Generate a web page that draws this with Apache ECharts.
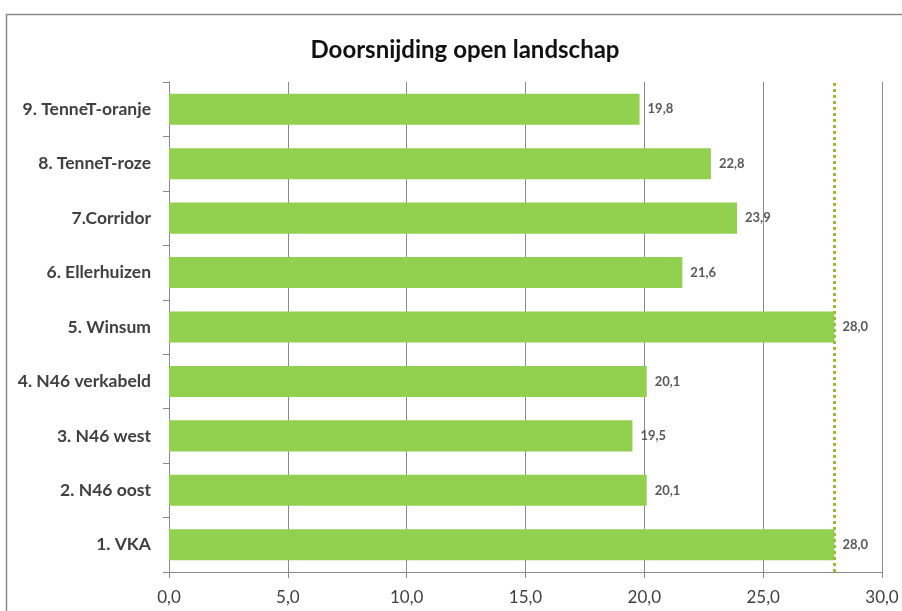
<!DOCTYPE html>
<html>
<head>
<meta charset="utf-8">
<script src="https://cdn.jsdelivr.net/npm/echarts@6/dist/echarts.min.js"></script>
<style>
  html, body { margin: 0; padding: 0; background: #ffffff; }
  #chart { width: 902px; height: 611px; }
</style>
</head>
<body>
<div id="chart"></div>
<script>
// Route variants, listed bottom to top as drawn on the category axis
const categories = [
  '1. VKA',
  '2. N46 oost',
  '3. N46 west',
  '4. N46 verkabeld',
  '5. Winsum',
  '6. Ellerhuizen',
  '7.Corridor',
  '8. TenneT-roze',
  '9. TenneT-oranje'
];
const values = [28.0, 20.1, 19.5, 20.1, 28.0, 21.6, 23.9, 22.8, 19.8];
const referenceValue = 28.0;
const xTicks = [0, 5, 10, 15, 20, 25, 30];

const fmt = v => Number(v).toFixed(1).replace('.', ',');
const font = 'Lato, "Open Sans", sans-serif';

const chart = echarts.init(document.getElementById('chart'), null, { renderer: 'canvas' });
chart.setOption({
  backgroundColor: '#ffffff',
  animation: false,
  title: {
    text: 'Doorsnijding open landschap',
    left: 460,
    top: 33,
    textAlign: 'center',
    textStyle: { fontFamily: font, fontWeight: 'bold', fontSize: 24, color: '#111111' }
  },
  graphic: [{
    type: 'rect',
    shape: { x: 6.5, y: 14.5, width: 1000, height: 1000 },
    style: { fill: 'none', stroke: '#8a8a8a', lineWidth: 1.5 },
    silent: true
  }],
  grid: { left: 169, right: 20, top: 82, bottom: 39, containLabel: false },
  xAxis: {
    type: 'value',
    min: xTicks[0],
    max: xTicks[xTicks.length - 1],
    interval: xTicks[1] - xTicks[0],
    axisLine: { show: true, lineStyle: { color: '#8a8a8a', width: 1 } },
    axisTick: { show: true, length: 6, lineStyle: { color: '#8a8a8a' } },
    axisLabel: {
      formatter: fmt,
      fontFamily: font, fontSize: 17, color: '#404040', margin: 17
    },
    splitLine: { show: true, lineStyle: { color: '#8a8a8a', width: 1 } }
  },
  yAxis: {
    type: 'category',
    data: categories,
    axisLine: { show: true, lineStyle: { color: '#8a8a8a', width: 1 } },
    axisTick: { show: true, length: 6, lineStyle: { color: '#8a8a8a' } },
    axisLabel: {
      fontFamily: font, fontSize: 17.5, fontWeight: 'bold', color: '#404040', margin: 18
    },
    splitLine: { show: false }
  },
  series: [{
    type: 'bar',
    data: values,
    barCategoryGap: '43%',
    itemStyle: { color: '#92d050' },
    label: {
      show: true,
      position: 'right',
      distance: 8,
      formatter: p => fmt(p.value),
      fontFamily: font, fontSize: 13, fontWeight: 'bold', color: '#595959'
    },
    markLine: {
      silent: true,
      symbol: 'none',
      label: { show: false },
      lineStyle: { type: [3, 3], color: '#9bbb3a', width: 3 },
      data: [{ xAxis: referenceValue }]
    }
  }]
});
</script>
</body>
</html>
